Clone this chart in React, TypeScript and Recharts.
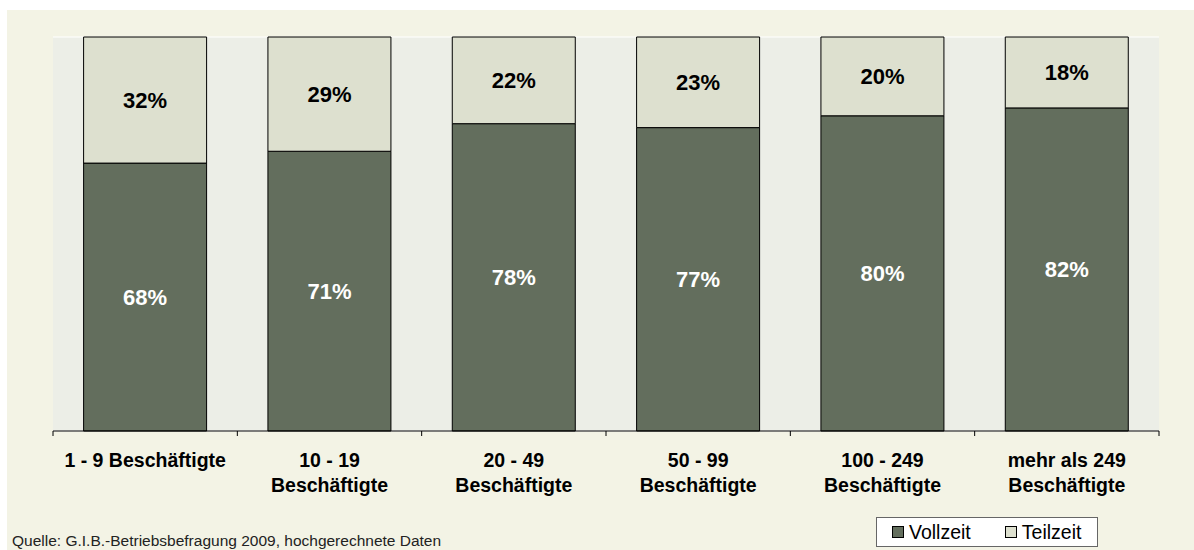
import React from "react";
import { Bar, BarChart, CartesianGrid, LabelList, Legend, XAxis, YAxis } from "recharts";

const categories = [
  "1 - 9 Beschäftigte",
  "10 - 19 Beschäftigte",
  "20 - 49 Beschäftigte",
  "50 - 99 Beschäftigte",
  "100 - 249 Beschäftigte",
  "mehr als 249 Beschäftigte",
];
const tickLines = [
  ["1 - 9 Beschäftigte"],
  ["10 - 19", "Beschäftigte"],
  ["20 - 49", "Beschäftigte"],
  ["50 - 99", "Beschäftigte"],
  ["100 - 249", "Beschäftigte"],
  ["mehr als 249", "Beschäftigte"],
];
const seriesNames = ["Vollzeit", "Teilzeit"];
const vollzeit = [68, 71, 78, 77, 80, 82];
const teilzeit = [32, 29, 22, 23, 20, 18];
const yTicks = [0, 10, 20, 30, 40, 50, 60, 70, 80, 90, 100];
const source = "Quelle: G.I.B.-Betriebsbefragung 2009, hochgerechnete Daten";

const data = categories.map((name, i) => ({
  name,
  vollzeit: vollzeit[i],
  teilzeit: teilzeit[i],
}));

const FONT = "'Liberation Sans', Arial, sans-serif";
const W = 1194;
const H = 550;
const PLOT_LEFT = 53;
const PLOT_RIGHT = 1159;
const BAND = (PLOT_RIGHT - PLOT_LEFT) / categories.length;

function CategoryTick({ x, y, index }: any) {
  const lines = tickLines[index] ?? [];
  const half = BAND / 2;
  return (
    <g>
      <line x1={x - half} x2={x - half} y1={y} y2={y + 5} stroke="#000" />
      {index === categories.length - 1 && (
        <line x1={x + half} x2={x + half} y1={y} y2={y + 5} stroke="#000" />
      )}
      <text
        x={x}
        y={y + 36}
        textAnchor="middle"
        fontFamily={FONT}
        fontSize={19.5}
        fontWeight="bold"
        fill="#000"
      >
        {lines.map((l, i) => (
          <tspan key={i} x={x} dy={i === 0 ? 0 : 25}>
            {l}
          </tspan>
        ))}
      </text>
    </g>
  );
}

function LegendBox({ payload }: any) {
  const items = [...(payload ?? [])].sort(
    (a: any, b: any) => seriesNames.indexOf(a.value) - seriesNames.indexOf(b.value)
  );
  return (
    <div
      style={{
        width: 222,
        height: 30,
        boxSizing: "border-box",
        border: "1px solid #666",
        background: "#fff",
        display: "flex",
        alignItems: "center",
        paddingLeft: 15,
        fontFamily: FONT,
        fontSize: 19.5,
        color: "#000",
      }}
    >
      {items.map((item: any, i: number) => (
        <div
          key={item.value}
          style={{ display: "flex", alignItems: "center", marginLeft: i === 0 ? 0 : 34 }}
        >
          <span
            style={{
              display: "inline-block",
              width: 12,
              height: 12,
              boxSizing: "border-box",
              border: "1px solid #000",
              background: item.color,
              marginRight: 5,
            }}
          />
          <span>{item.value}</span>
        </div>
      ))}
    </div>
  );
}

export default function App() {
  return (
    <div
      style={{
        position: "absolute",
        left: 0,
        top: 0,
        width: W,
        height: H,
        background: "#fff",
        overflow: "hidden",
        fontFamily: FONT,
      }}
    >
      <div
        style={{ position: "absolute", left: 7, top: 10, right: 0, bottom: 0, background: "#F3F3E5" }}
      />
      <div style={{ position: "absolute", left: 0, top: 0 }}>
        <BarChart
          width={W}
          height={H}
          data={data}
          margin={{ top: 37, left: PLOT_LEFT, right: W - PLOT_RIGHT, bottom: 59 }}
          barCategoryGap="16.6%"
        >
          <CartesianGrid vertical={false} stroke="#fff" fill="#ECEEE7" />
          <XAxis
            dataKey="name"
            interval={0}
            height={60}
            tickSize={0}
            tickMargin={0}
            tickLine={false}
            axisLine={{ stroke: "#000" }}
            tick={<CategoryTick />}
          />
          <YAxis
            domain={[0, 100]}
            ticks={yTicks}
            width={0}
            tick={false}
            tickLine={false}
            axisLine={{ stroke: "#000" }}
          />
          <Legend
            layout="horizontal"
            verticalAlign="middle"
            align="center"
            wrapperStyle={{ left: 876, top: 517, width: 222, height: 30 }}
            content={<LegendBox />}
          />
          <Bar
            dataKey="vollzeit"
            name="Vollzeit"
            stackId="a"
            fill="#636E5D"
            stroke="#000"
            strokeWidth={1}
            isAnimationActive={false}
          >
            <LabelList
              dataKey="vollzeit"
              position="center"
              formatter={(v: any) => `${v}%`}
              fill="#fff"
              stroke="none"
              fontSize={22}
              fontWeight="bold"
              fontFamily={FONT}
            />
          </Bar>
          <Bar
            dataKey="teilzeit"
            name="Teilzeit"
            stackId="a"
            fill="#DDE0CF"
            stroke="#000"
            strokeWidth={1}
            isAnimationActive={false}
          >
            <LabelList
              dataKey="teilzeit"
              position="center"
              formatter={(v: any) => `${v}%`}
              fill="#000"
              stroke="none"
              fontSize={22}
              fontWeight="bold"
              fontFamily={FONT}
            />
          </Bar>
        </BarChart>
      </div>
      <div
        style={{
          position: "absolute",
          left: 12,
          top: 533,
          fontSize: 15.5,
          lineHeight: 1,
          color: "#222",
          whiteSpace: "nowrap",
        }}
      >
        {source}
      </div>
    </div>
  );
}
